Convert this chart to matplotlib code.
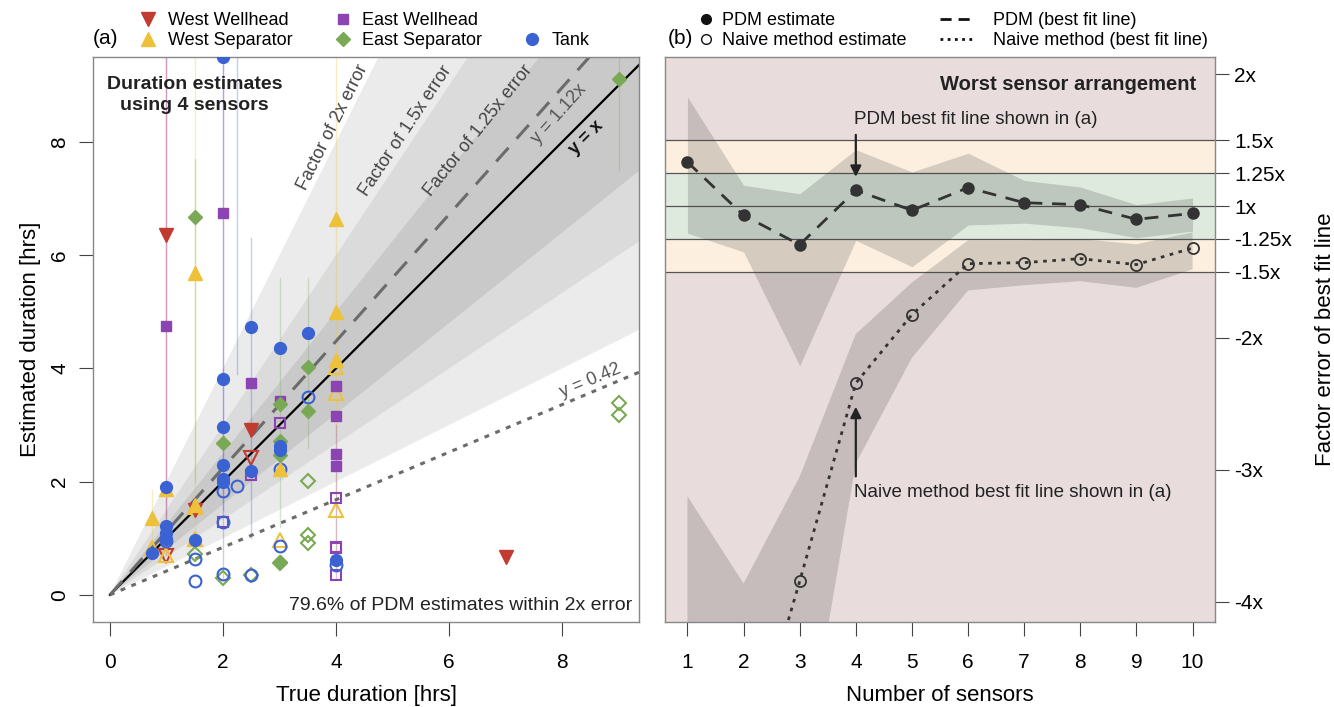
import numpy as np
import matplotlib.pyplot as plt
from matplotlib.lines import Line2D

plt.rcParams['font.family'] = ['Liberation Sans', 'DejaVu Sans']

# source colours
c_ww = '#c23b31'
c_ws = '#eec13a'
c_ew = '#8d44b3'
c_es = '#7aa955'
c_tk = '#3a62d2'

# (a) duration estimates [hrs]: filled = PDM, open = naive method
ww_true = [1, 1.5, 2.5, 7]
ww_est = [6.36, 1.5, 2.92, 0.67]
ww_true_nv = [1, 2.5]
ww_est_nv = [0.68, 2.41]

ws_true = [0.75, 1, 1.5, 1.5, 3, 4, 4, 4]
ws_est = [1.35, 1.87, 5.69, 1.58, 2.22, 6.63, 5.0, 4.14]
ws_true_nv = [0.75, 1, 1.5, 1.5, 3, 4, 4, 4]
ws_est_nv = [0.82, 0.7, 1.55, 0.98, 0.97, 4.02, 3.56, 1.5]

ew_true = [1, 2, 2.5, 3, 4, 4, 4, 4]
ew_est = [4.74, 6.75, 3.74, 3.42, 3.69, 3.15, 2.49, 2.27]
ew_true_nv = [2, 2.5, 3, 4, 4, 4, 4]
ew_est_nv = [1.28, 2.12, 3.03, 1.71, 0.85, 0.82, 0.35]

es_true = [1.5, 2, 3, 3, 3, 3, 3.5, 3.5, 9]
es_est = [6.68, 2.68, 3.37, 2.71, 2.47, 0.58, 4.02, 3.25, 9.11]
es_true_nv = [1.5, 2, 2.5, 3, 3.5, 3.5, 3.5, 9, 9]
es_est_nv = [0.72, 0.3, 0.35, 0.56, 2.01, 1.06, 0.91, 3.38, 3.17]

tk_true = [0.75, 1, 1, 1, 1, 1.5, 2, 2, 2, 2, 2, 2, 2.5, 2.5, 3, 3, 3, 3.5, 4]
tk_est = [0.74, 1.91, 1.21, 1.09, 0.98, 0.97, 9.5, 3.82, 2.97, 2.30, 2.04, 2.0,
          4.73, 2.18, 4.36, 2.62, 2.56, 4.62, 0.62]
tk_true_nv = [1, 1.5, 1.5, 2, 2, 2, 2.25, 2.5, 3, 3, 3.5, 4]
tk_est_nv = [0.95, 0.63, 0.24, 1.83, 1.28, 0.37, 1.93, 0.35, 2.22, 0.87, 3.5, 0.53]

# uncertainty ranges of the estimates
bar_x = [0.75, 1, 1, 1.5, 1.5, 2, 2, 2.25, 2.5, 3, 3.5, 4, 4, 9]
bar_lo = [0.7, 0.7, 1.0, 0.9, 2.0, 0.3, 1.5, 3.9, 1.0, 1.2, 2.6, 0.5, 0.3, 7.5]
bar_hi = [1.85, 9.6, 9.6, 9.6, 7.7, 9.6, 9.6, 9.6, 6.3, 5.6, 5.6, 9.6, 3.0, 9.6]
bar_col = [c_ws, c_ww, c_ew, c_ws, c_es, c_ew, c_tk, c_tk, c_tk, c_es, c_es,
           c_ws, c_ew, c_es]

# (b) factor error of the best fit line vs number of sensors
n_sensors = [1, 2, 3, 4, 5, 6, 7, 8, 9, 10]
pdm_err = [0.333, -0.071, -0.293, 0.119, -0.033, 0.139, 0.025, 0.010, -0.101, -0.056]
pdm_hi = [0.826, 0.157, 0.093, 0.427, 0.258, 0.40, 0.194, 0.144, 0.01, 0.061]
pdm_lo = [-0.205, -0.348, -1.21, -0.26, -0.46, -0.144, -0.13, -0.165, -0.24, -0.19]
naive_err = [-6.0, -4.3, -2.843, -1.342, -0.823, -0.437, -0.429, -0.399, -0.444, -0.318]
naive_hi = [-2.2, -2.86, -2.05, -0.97, -0.58, -0.26, -0.26, -0.25, -0.29, -0.2]
naive_lo = [-6.5, -6.0, -4.45, -1.95, -1.15, -0.64, -0.6, -0.57, -0.62, -0.48]
err_ticks = [1, 0.5, 0.25, 0, -0.25, -0.5, -1, -2, -3]
err_labels = ['2x', '1.5x', '1.25x', '1x', '-1.25x', '-1.5x', '-2x', '-3x', '-4x']

fig = plt.figure(figsize=(13.34, 7.07), dpi=100)
ax1 = fig.add_axes([93 / 1334, 1 - 622 / 707, 546 / 1334, 565 / 707])
ax2 = fig.add_axes([665 / 1334, 1 - 622 / 707, 550 / 1334, 565 / 707])

# ---------- (a) ----------
xx = np.array([0, 10])
for k, col in [(2, '#ebebeb'), (1.5, '#dbdbdb'), (1.25, '#c9c9c9')]:
    ax1.fill_between(xx, xx / k, xx * k, color=col, lw=0, zorder=0)

for x, lo, hi, col in zip(bar_x, bar_lo, bar_hi, bar_col):
    ax1.plot([x, x], [lo, hi], color=col, lw=1.0, alpha=0.3, zorder=1)

ax1.plot(xx, xx, color='black', lw=1.6, zorder=2)
ax1.plot(xx, 1.12 * xx, color='#6b6b6b', lw=2.2, ls=(0, (6, 4)), zorder=2)
ax1.plot(xx, 0.42 * xx, color='#6b6b6b', lw=2.2, ls=(0, (1.6, 2.2)), zorder=2)

series = [
    (ww_true, ww_est, ww_true_nv, ww_est_nv, c_ww, 'v', 9.5, 'West Wellhead'),
    (ws_true, ws_est, ws_true_nv, ws_est_nv, c_ws, '^', 9.5, 'West Separator'),
    (ew_true, ew_est, ew_true_nv, ew_est_nv, c_ew, 's', 7.5, 'East Wellhead'),
    (es_true, es_est, es_true_nv, es_est_nv, c_es, 'D', 7.0, 'East Separator'),
    (tk_true, tk_est, tk_true_nv, tk_est_nv, c_tk, 'o', 8.5, 'Tank'),
]
handles = {}
for xt, ye, xn, yn, col, mk, ms, name in series:
    ax1.plot(xn, yn, ls='none', marker=mk, ms=ms, mfc='none', mec=col, mew=1.5, zorder=3)
    h, = ax1.plot(xt, ye, ls='none', marker=mk, ms=ms, color=col, zorder=4, label=name)
    handles[name] = h

blank = Line2D([], [], ls='none', marker='')
ax1.legend([handles['West Wellhead'], handles['West Separator'],
            handles['East Wellhead'], handles['East Separator'],
            blank, handles['Tank']],
           ['West Wellhead', 'West Separator', 'East Wellhead',
            'East Separator', '', 'Tank'],
           ncol=3, loc='lower left', bbox_to_anchor=(0.085, 1.014),
           frameon=False, fontsize=13, handlelength=1.0, handletextpad=0.6,
           columnspacing=2.25, labelspacing=0.15, borderpad=0, borderaxespad=0)

ax1.text(1.5, 8.83, 'Duration estimates\nusing 4 sensors', ha='center', va='center',
         fontsize=14, fontweight='bold', linespacing=1.35, color='#222')
ax1.text(3.95, 8.25, 'Factor of 2x error', rotation=np.degrees(np.arctan(2)),
         ha='center', va='center', rotation_mode='anchor', fontsize=13, color='#444')
ax1.text(5.24, 8.19, 'Factor of 1.5x error', rotation=np.degrees(np.arctan(1.5)),
         ha='center', va='center', rotation_mode='anchor', fontsize=13, color='#444')
ax1.text(6.51, 8.2, 'Factor of 1.25x error', rotation=np.degrees(np.arctan(1.25)),
         ha='center', va='center', rotation_mode='anchor', fontsize=13, color='#444')
ax1.text(7.95, 8.5, 'y = 1.12x', rotation=np.degrees(np.arctan(1.12)),
         ha='center', va='center', rotation_mode='anchor', fontsize=13, color='#555')
ax1.text(8.42, 8.07, 'y = x', rotation=45, ha='center', va='center',
         rotation_mode='anchor', fontsize=13, fontweight='bold', color='#111')
ax1.text(8.5, 3.78, 'y = 0.42', rotation=np.degrees(np.arctan(0.42)),
         ha='center', va='center', rotation_mode='anchor', fontsize=13, color='#555')
ax1.text(9.24, -0.19, '79.6% of PDM estimates within 2x error', ha='right',
         va='center', fontsize=14, color='#222')

ax1.set_xlim(-0.3, 9.36)
ax1.set_ylim(-0.48, 9.5)
ax1.set_xticks([0, 2, 4, 6, 8])
ax1.set_yticks([0, 2, 4, 6, 8])
ax1.tick_params(labelsize=15, length=10, color='#444')
ax1.tick_params(axis='x', pad=12)
ax1.tick_params(axis='y', pad=7)
plt.setp(ax1.get_yticklabels(), rotation=90, va='center')
ax1.set_xlabel('True duration [hrs]', fontsize=16, labelpad=10)
ax1.set_ylabel('Estimated duration [hrs]', fontsize=16, labelpad=7)
fig.text(93 / 1334, 1 - 39 / 707, '(a)', fontsize=15, va='center', ha='left')

# ---------- (b) ----------
ax2.set_facecolor('#e9dcdc')
ax2.axhspan(-0.5, 0.5, color='#fcefdf', lw=0, zorder=0)
ax2.axhspan(-0.25, 0.25, color='#dfeadf', lw=0, zorder=0)
for v in [0.5, 0.25, 0, -0.25, -0.5]:
    ax2.axhline(v, color='#555', lw=0.9, zorder=1)

ax2.fill_between(n_sensors, pdm_lo, pdm_hi, color='#3c3c3c', alpha=0.2, lw=0, zorder=2)
ax2.fill_between(n_sensors, naive_lo, naive_hi, color='#3c3c3c', alpha=0.2, lw=0, zorder=2)

ax2.plot(n_sensors, pdm_err, color='#333', lw=2, ls=(0, (5, 3.5)), zorder=3)
ax2.plot(n_sensors, pdm_err, ls='none', marker='o', ms=8, color='#333', zorder=4)
ax2.plot(n_sensors, naive_err, color='#333', lw=2, ls=(0, (1.3, 2)), zorder=3)
ax2.plot(n_sensors, naive_err, ls='none', marker='o', ms=8, mfc='none', mec='#333',
         mew=1.3, zorder=4)

ax2.text(10.07, 0.924, 'Worst sensor arrangement', ha='right', va='center',
         fontsize=14.5, fontweight='bold', color='#222')
ax2.text(3.96, 0.654, 'PDM best fit line shown in (a)', ha='left', va='center',
         fontsize=13.5, color='#222')
ax2.annotate('', xy=(4, 0.2), xytext=(4, 0.56),
             arrowprops=dict(arrowstyle='-|>', color='#222', lw=1.6, mutation_scale=16))
ax2.text(3.96, -2.17, 'Naive method best fit line shown in (a)', ha='left', va='center',
         fontsize=13.5, color='#222')
ax2.annotate('', xy=(4, -1.5), xytext=(4, -2.07),
             arrowprops=dict(arrowstyle='-|>', color='#222', lw=1.6, mutation_scale=16))

ax2.set_xlim(0.6, 10.4)
ax2.set_ylim(-3.152, 1.129)
ax2.set_xticks(n_sensors)
ax2.yaxis.tick_right()
ax2.yaxis.set_label_position('right')
ax2.set_yticks(err_ticks)
ax2.set_yticklabels(err_labels)
ax2.tick_params(labelsize=15, length=10, color='#444')
ax2.tick_params(axis='x', pad=12)
ax2.tick_params(axis='y', pad=4)
ax2.set_xlabel('Number of sensors', fontsize=16, labelpad=10)
ax2.set_ylabel('Factor error of best fit line', fontsize=16, labelpad=16)
fig.text(668 / 1334, 1 - 39 / 707, '(b)', fontsize=15, va='center', ha='left')

mk_handles = [Line2D([], [], ls='none', marker='o', ms=7, color='#111'),
              Line2D([], [], ls='none', marker='o', ms=7, mfc='none', mec='#111', mew=1)]
ln_handles = [Line2D([], [], color='#111', lw=2, ls=(0, (4, 2.5))),
              Line2D([], [], color='#111', lw=2, ls=(0, (1, 1.6)))]
leg_a = ax2.legend(mk_handles, ['PDM estimate', 'Naive method estimate'],
                   loc='lower left', bbox_to_anchor=(0.058, 1.014), frameon=False,
                   fontsize=13, handlelength=1.0, handletextpad=0.4, labelspacing=0.15,
                   borderpad=0, borderaxespad=0)
ax2.add_artist(leg_a)
ax2.legend(ln_handles, ['PDM (best fit line)', 'Naive method (best fit line)'],
           loc='lower left', bbox_to_anchor=(0.5, 1.014), frameon=False,
           fontsize=13, handlelength=1.95, handletextpad=1.0, labelspacing=0.15,
           borderpad=0, borderaxespad=0)

for ax in (ax1, ax2):
    for sp in ax.spines.values():
        sp.set_color('#888')
        sp.set_linewidth(1)

fig.savefig('out.png', dpi=100)
